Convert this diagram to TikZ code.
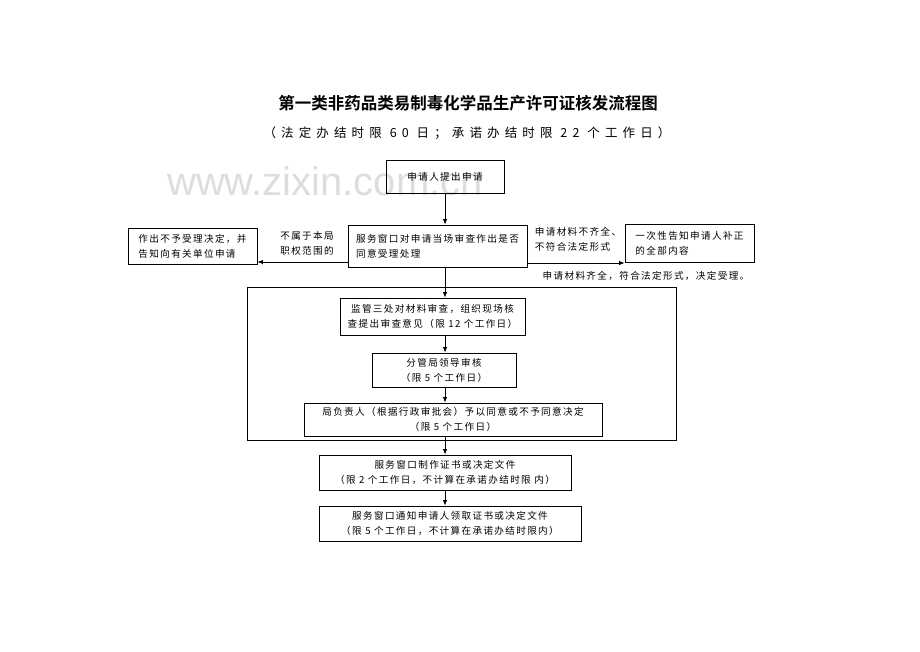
\documentclass[tikz,border=0pt]{standalone}
\usepackage{fontspec}
\usetikzlibrary{arrows.meta,calc}
\setmainfont{Liberation Serif}
\newfontfamily\cjk[LetterSpace=14]{Noto Sans CJK SC}
\newfontfamily\cjksub[LetterSpace=41]{Noto Sans CJK SC}
\newfontfamily\cjktitle{Noto Sans CJK SC Bold}
\newfontfamily\wm{Liberation Sans}
\definecolor{wmgray}{HTML}{DDDDDD}
\begin{document}
\begin{tikzpicture}[x=1pt,y=-1pt,
  box/.style={draw=black,line width=0.8pt,inner sep=0pt,font=\cjk\fontsize{9.6}{15}\selectfont},
  lbl/.style={inner sep=0pt,font=\cjk\fontsize{9.6}{15}\selectfont},
  arr/.style={line width=0.9pt,-{Latex[length=5.5pt,width=4.5pt]}}]
\useasboundingbox (0,0) rectangle (920,651);
\node[text=wmgray,font=\wm\fontsize{40}{40}\selectfont] (wmk) at (325,181) {www.zixin.com.cn};
\node[font=\cjktitle\fontsize{16.5}{18}\selectfont] (title) at (468,103) {第一类非药品类易制毒化学品生产许可证核发流程图};
\node[font=\cjksub\fontsize{12.5}{14}\selectfont] (sub) at (467,133) {（法定办结时限 60 日；承诺办结时限 22 个工作日）};
\node[box,minimum width=118,minimum height=33] (b1) at (445,176.5) {申请人提出申请};
\node[box,minimum width=179,minimum height=42,align=left] (b2) at (437.5,246) {服务窗口对申请当场审查作出是否\\同意受理处理};
\node[box,minimum width=129,minimum height=36,align=left] (lb) at (192.5,246) {作出不予受理决定，并\\告知向有关单位申请};
\node[box,minimum width=129,minimum height=38,align=left] (rb) at (689.5,243) {一次性告知申请人补正\\的全部内容};
\node[lbl,align=left] (l1) at (307,243) {不属于本局\\职权范围的};
\node[lbl,align=left] (l2) at (578,239) {申请材料不齐全、\\不符合法定形式};
\node[lbl] (l3) at (646,276) {申请材料齐全，符合法定形式，决定受理。};
\node[draw=black,line width=0.9pt,minimum width=429,minimum height=153,inner sep=0pt] (cont) at (461.5,363.5) {};
\node[box,minimum width=185,minimum height=37,align=center] (b3) at (432.5,316.5) {监管三处对材料审查，组织现场核\\查提出审查意见（限 12 个工作日）};
\node[box,minimum width=144,minimum height=34,align=center] (b4) at (444,370) {分管局领导审核\\（限 5 个工作日）};
\node[box,minimum width=298,minimum height=33,align=center] (b5) at (453,419.5) {局负责人（根据行政审批会）予以同意或不予同意决定\\（限 5 个工作日）};
\node[box,minimum width=252,minimum height=35,align=center] (b6) at (445,472.5) {服务窗口制作证书或决定文件\\（限 2 个工作日，不计算在承诺办结时限 内）};
\node[box,minimum width=262,minimum height=35,align=center] (b7) at (450,523.5) {服务窗口通知申请人领取证书或决定文件\\（限 5 个工作日，不计算在承诺办结时限内）};
\draw[arr] (b1.south) -- (b1.south |- b2.north);
\draw[arr] (b1.south |- b2.south) -- (b1.south |- b3.north);
\draw[arr] (b1.south |- b3.south) -- (b1.south |- b4.north);
\draw[arr] (b1.south |- b4.south) -- (b1.south |- b5.north);
\draw[arr] (b1.south |- b5.south) -- (b1.south |- b6.north);
\draw[arr] (b1.south |- b6.south) -- (b1.south |- b7.north);
\draw[arr] ([yshift=-16pt]b2.west) -- ([yshift=-16pt]b2.west -| lb.east);
\draw[arr] ([yshift=-17pt]b2.east) -- ([yshift=-17pt]b2.east -| rb.west);
\end{tikzpicture}
\end{document}
